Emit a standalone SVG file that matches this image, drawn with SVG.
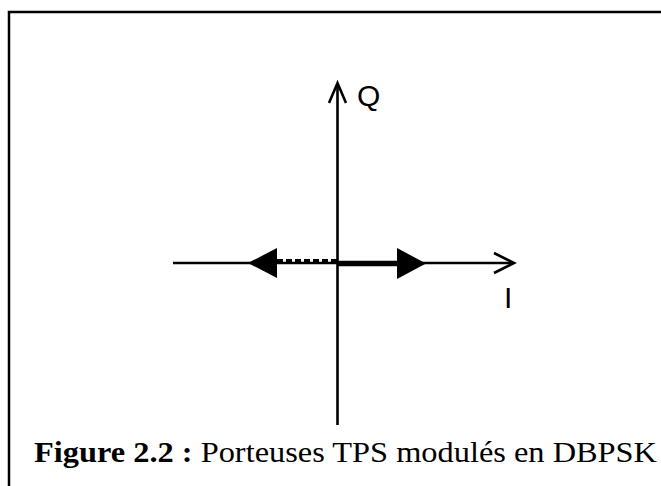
<svg xmlns="http://www.w3.org/2000/svg" width="661" height="486" viewBox="0 0 661 486">
<style>
.ax{stroke:#000;stroke-width:2.6;fill:none}
.lbl{font-family:"Liberation Sans",Arial,sans-serif;font-size:30px;fill:#000}
.cap{font-family:"Liberation Serif","Times New Roman",serif;font-size:30px;fill:#000}
</style>
<rect x="9" y="12" width="660" height="480" fill="#fff" stroke="#000" stroke-width="2.5"/>
<g id="connectors">
<line class="ax" x1="173" y1="263" x2="513" y2="263"/>
<polyline class="ax" points="494,253 514,263 494,273"/>
<line class="ax" x1="337.5" y1="425" x2="337.5" y2="84"/>
<polyline class="ax" points="329,103 337.5,83 346,103"/>
<line x1="337" y1="263.5" x2="398" y2="263.5" stroke="#000" stroke-width="5.5"/>
<polygon points="397,248 426,263.5 397,279" fill="#000"/>
<line x1="337" y1="261" x2="277" y2="261" stroke="#000" stroke-width="4" stroke-dasharray="6,3"/>
<polygon points="277,248 248,263 277,278" fill="#000"/>
</g>
<g id="q-label"><text class="lbl" x="357" y="106">Q</text></g>
<g id="i-label"><text class="lbl" x="504" y="308">I</text></g>
<g id="caption"><text class="cap" x="34" y="462" textLength="623" lengthAdjust="spacingAndGlyphs"><tspan font-weight="bold">Figure 2.2 :</tspan> Porteuses TPS modulés en DBPSK</text></g>
</svg>
